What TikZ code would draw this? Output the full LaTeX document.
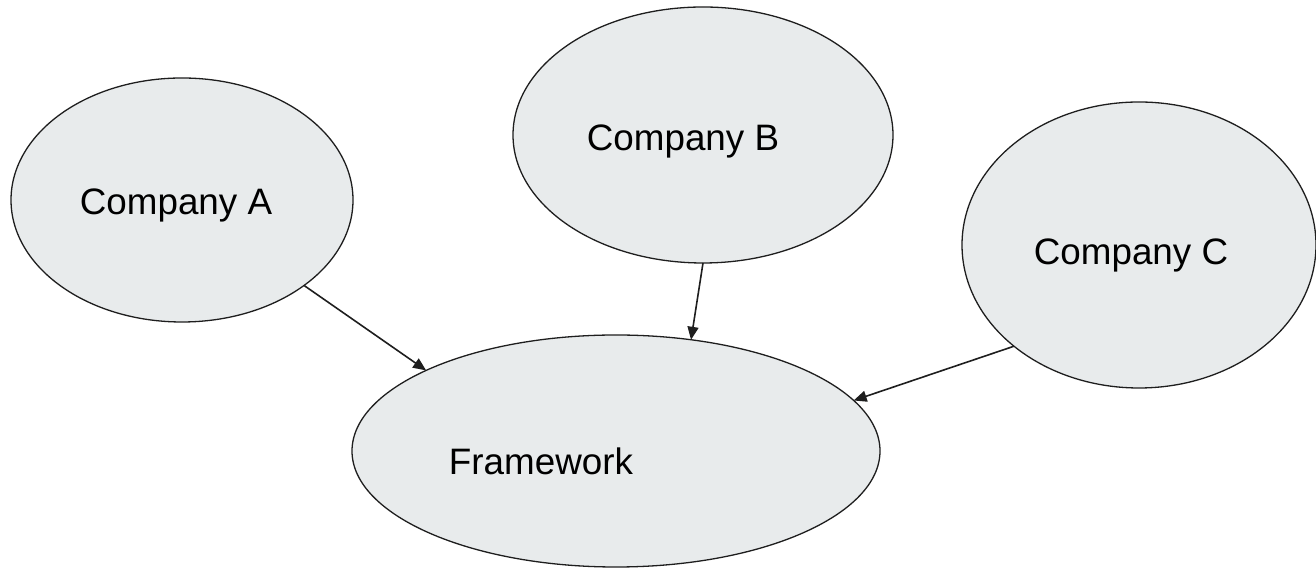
\documentclass[tikz,border=0pt]{standalone}
\usepackage{fontspec}
\setmainfont{Liberation Sans}
\usetikzlibrary{arrows.meta,shapes.geometric}

\definecolor{bubblefill}{RGB}{232,235,236}
\definecolor{inkline}{RGB}{30,30,30}

\tikzset{
  bubble/.style={ellipse, draw=inkline, fill=bubblefill, line width=1.3pt,
                 inner sep=0pt, outer sep=0pt},
  caption/.style={anchor=base, inner sep=0pt, text=black,
                  font=\fontsize{36.8}{44}\selectfont},
  feed/.style={draw=inkline, line width=1.6pt,
               -{Triangle[length=13pt,width=11pt]}}
}

\begin{document}
\begin{tikzpicture}[x=1pt,y=1pt]
  \useasboundingbox (0,0) rectangle (1316,569);

  % the four ellipses
  \node[bubble, minimum width=342pt, minimum height=244pt] (A) at (182,369) {};
  \node[bubble, minimum width=380pt, minimum height=256pt] (B) at (703,434) {};
  \node[bubble, minimum width=354pt, minimum height=286pt] (C) at (1139,324) {};
  \node[bubble, minimum width=528pt, minimum height=232pt] (F) at (616,118) {};

  % their labels
  \node[caption] (tA) at (176,354) {Company A};
  \node[caption] (tB) at (683,418) {Company B};
  \node[caption] (tC) at (1131,304) {Company C};
  \node[caption] (tF) at (541,94)  {Framework};

  % each company feeds the framework
  \draw[feed] (A.-35)  -- (F.157);
  \draw[feed] (B.-90)  -- (F.56);
  \draw[feed] (C.219)  -- (F.12);
\end{tikzpicture}
\end{document}
